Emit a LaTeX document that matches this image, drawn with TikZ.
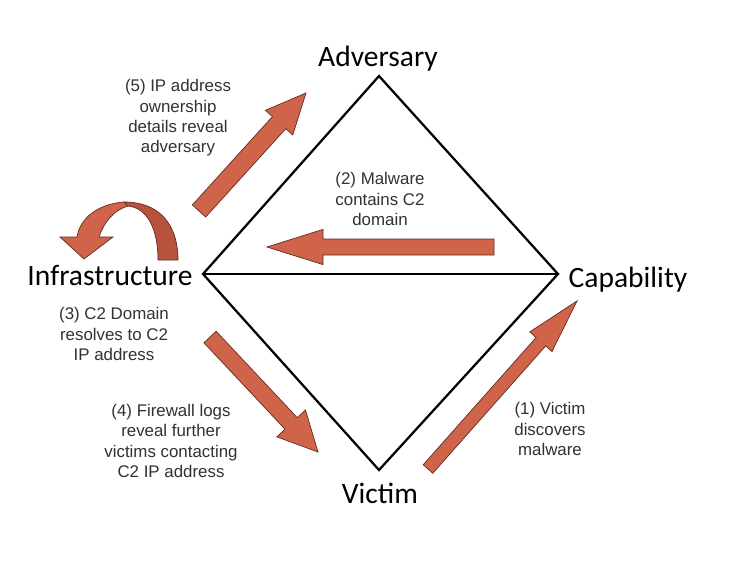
\documentclass[tikz,border=0pt]{standalone}
\usepackage{fontspec}
\setmainfont{Liberation Sans}
\newfontfamily\cornerfont{Carlito}
\usetikzlibrary{calc}
\definecolor{arrowfill}{RGB}{208,100,74}
\definecolor{arrowback}{RGB}{184,82,60}
\definecolor{arrowedge}{RGB}{95,45,35}
\definecolor{notegray}{RGB}{50,50,50}

% block arrow: tail, tip, half shaft, half head, head length
\newcommand{\blockarrow}[5]{%
  \coordinate (hb) at ($(#2)!#5!(#1)$);
  \draw[fatarrow] ($(#1)!#3!90:(#2)$) -- ($(hb)!#3!-90:(#1)$) -- ($(hb)!#4!-90:(#1)$)
    -- (#2) -- ($(hb)!#4!90:(#1)$) -- ($(hb)!#3!90:(#1)$) -- ($(#1)!#3!-90:(#2)$) -- cycle;}

\tikzset{
  fatarrow/.style={fill=arrowfill,draw=arrowedge,line width=0.5pt,line join=miter},
  corner/.style={font=\cornerfont\fontsize{21}{25}\selectfont,anchor=base},
  note/.style={font=\fontsize{12}{14.5}\selectfont,text=notegray,align=center}
}

\begin{document}
\begin{tikzpicture}[x=0.025cm,y=-0.025cm]
\useasboundingbox[fill=white] (0,0) rectangle (731,560);
% diamond
\coordinate (top) at (379,76);
\coordinate (left) at (203,274);
\coordinate (right) at (558,274);
\coordinate (bottom) at (379,470);
\draw[line width=1.6pt,line join=miter] (top) -- (left) -- (bottom) -- (right) -- cycle;
\draw[line width=1.6pt] (left) -- (right);
% corner labels
\node[corner] (adv) at (378,66) {Adversary};
\node[corner] (infra) at (110,285) {Infrastructure};
\node[corner] (cap) at (628,287) {Capability};
\node[corner] (vic) at (380,503) {Victim};
% steps
\node[note] (s5) at (178,118) {(5) IP address\\ownership\\details reveal\\adversary};
\node[note] (s2) at (380,199) {(2) Malware\\contains C2\\domain};
\node[note] (s3) at (114,334) {(3) C2 Domain\\resolves to C2\\IP address};
\node[note] (s4) at (171,441) {(4) Firewall logs\\reveal further\\victims contacting\\C2 IP address};
\node[note] (s1) at (550,429) {(1) Victim\\discovers\\malware};
% arrows
\coordinate (t5) at (199,211); \coordinate (h5) at (306,93);
\coordinate (t2) at (494,247); \coordinate (h2) at (267,247);
\coordinate (t4) at (210,337); \coordinate (h4) at (318,452);
\coordinate (t1) at (428,469); \coordinate (h1) at (577,301);
\blockarrow{t5}{h5}{0.225cm}{0.46cm}{1.0cm}
\blockarrow{t2}{h2}{0.2cm}{0.44cm}{1.4cm}
\blockarrow{t4}{h4}{0.21cm}{0.49cm}{0.98cm}
\blockarrow{t1}{h1}{0.16cm}{0.37cm}{1.36cm}
% curved arrow over infrastructure
\draw[fatarrow,fill=arrowback] (124,202) .. controls (160,202) and (178,225) .. (178,260)
  -- (158,260) .. controls (158,230) and (148,208) .. (128,206) -- cycle;
\draw[fatarrow] (124,202) .. controls (98,204) and (80,218) .. (77,237) -- (60,237)
  -- (84,259) -- (113,237) -- (99,237) .. controls (104,222) and (114,210) .. (128,206) -- cycle;
\end{tikzpicture}
\end{document}
